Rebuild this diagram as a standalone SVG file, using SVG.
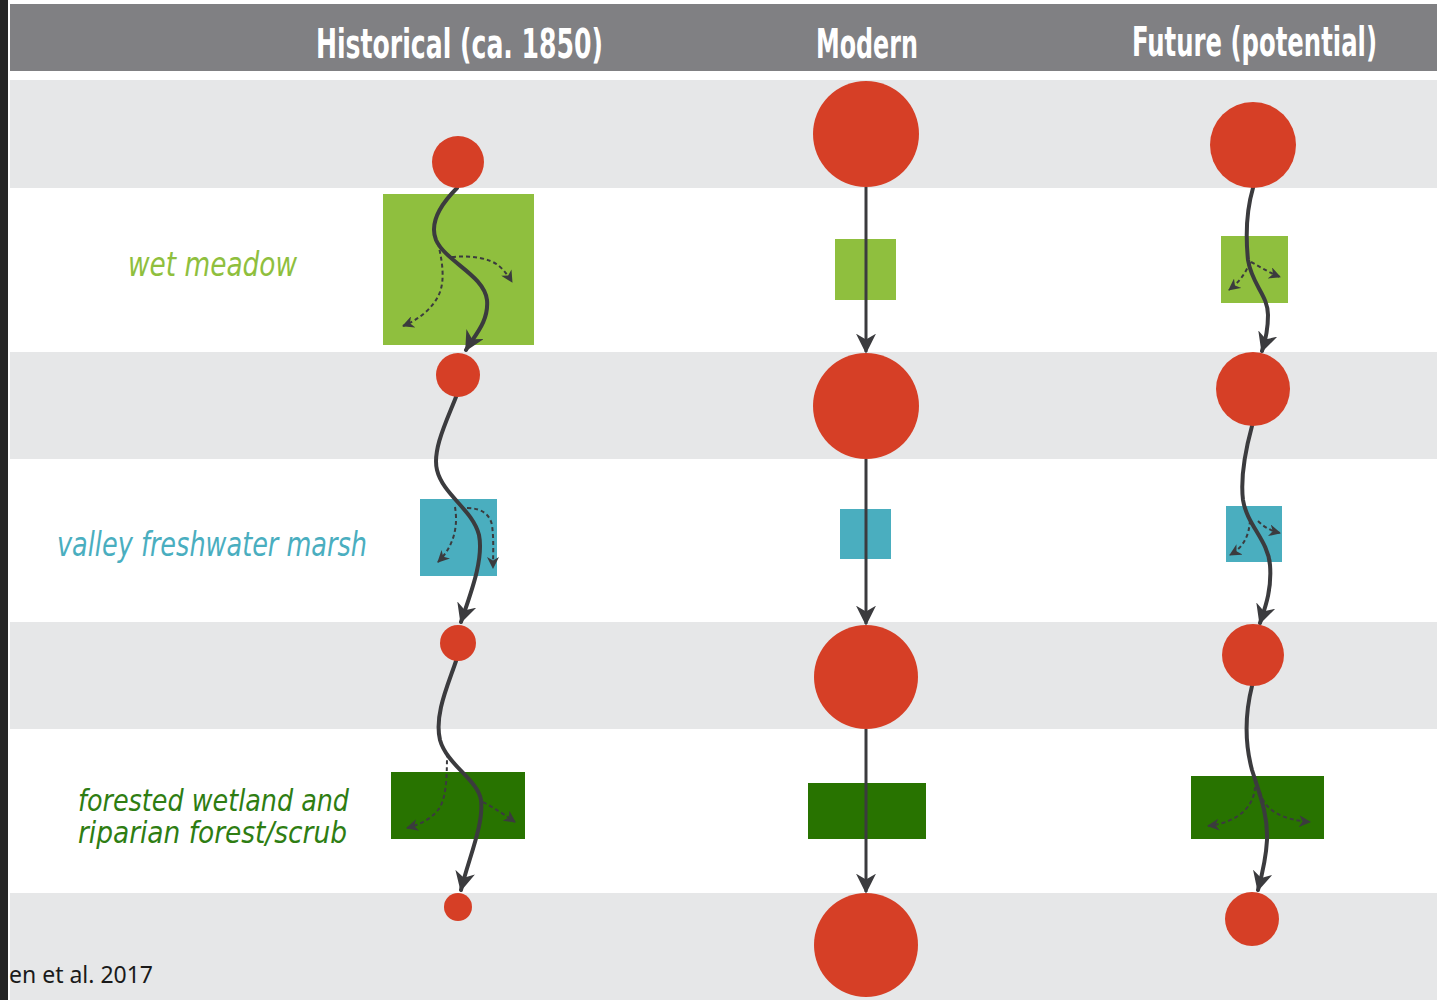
<svg xmlns="http://www.w3.org/2000/svg" width="1437" height="1000" viewBox="0 0 1437 1000">
  <style>
    .hdr { font-family: "DejaVu Sans Condensed", "DejaVu Sans", sans-serif; font-stretch: condensed; font-size: 40px; fill: #ffffff; font-weight: bold; }
    .lbl { font-family: "DejaVu Sans Condensed", "DejaVu Sans", sans-serif; font-stretch: condensed; font-style: italic; font-size: 34px; }
    .lbl2 { font-family: "DejaVu Sans Condensed", "DejaVu Sans", sans-serif; font-stretch: condensed; font-style: italic; font-size: 30px; }
    .dot { fill: #d63f26; }
    .flow { fill: none; stroke: #3b3b3e; stroke-width: 4; stroke-linecap: round; }
    .straight { fill: none; stroke: #3b3b3e; stroke-width: 3; }
    .seep { fill: none; stroke: #3b3b3e; stroke-width: 2; stroke-dasharray: 4 3; }
    .meadow { fill: #8fbf3e; }
    .marsh { fill: #4aaebf; }
    .forest { fill: #287300; }
  </style>
  <defs>
    <marker id="head" viewBox="0 0 12 12" refX="11" refY="6" markerWidth="20" markerHeight="20" markerUnits="userSpaceOnUse" orient="auto">
      <path d="M0,0 L12,6 L0,12 L3.5,6 z" fill="#3b3b3e"/>
    </marker>
    <marker id="small" viewBox="0 0 12 12" refX="11" refY="6" markerWidth="12" markerHeight="12" markerUnits="userSpaceOnUse" orient="auto">
      <path d="M0,0 L12,6 L0,12 L3.5,6 z" fill="#3b3b3e"/>
    </marker>
  </defs>

  <!-- background bands -->
  <rect x="0" y="0" width="1437" height="1000" fill="#ffffff"/>
  <rect x="10" y="4" width="1427" height="67" fill="#808083"/>
  <rect x="10" y="80" width="1427" height="108" fill="#e6e7e8"/>
  <rect x="10" y="352" width="1427" height="107" fill="#e6e7e8"/>
  <rect x="10" y="622" width="1427" height="107" fill="#e6e7e8"/>
  <rect x="10" y="893" width="1427" height="107" fill="#e6e7e8"/>
  <rect x="0" y="0" width="8" height="1000" fill="#262626"/>

  <!-- column headers -->
  <g id="headers">
    <text class="hdr" x="316" y="58" textLength="287" lengthAdjust="spacingAndGlyphs">Historical (ca. 1850)</text>
    <text class="hdr" x="816" y="58" textLength="102" lengthAdjust="spacingAndGlyphs">Modern</text>
    <text class="hdr" x="1132" y="56" textLength="245" lengthAdjust="spacingAndGlyphs">Future (potential)</text>
  </g>

  <!-- habitat labels -->
  <g id="label-meadow">
    <text class="lbl" x="128" y="276" fill="#8fbf3e" textLength="169" lengthAdjust="spacingAndGlyphs">wet  meadow</text>
  </g>
  <g id="label-marsh">
    <text class="lbl" x="57" y="556" fill="#4aaebf" textLength="310" lengthAdjust="spacingAndGlyphs">valley freshwater marsh</text>
  </g>
  <g id="label-forest">
    <text class="lbl2" x="78" y="811" fill="#2e7d12" textLength="271" lengthAdjust="spacingAndGlyphs">forested wetland and</text>
    <text class="lbl2" x="78" y="843" fill="#2e7d12" textLength="269" lengthAdjust="spacingAndGlyphs">riparian forest/scrub</text>
  </g>

  <!-- habitat patches -->
  <g id="hist-meadow"><rect class="meadow" x="383" y="194" width="151" height="151"/></g>
  <g id="hist-marsh"><rect class="marsh" x="420" y="499" width="77" height="77"/></g>
  <g id="hist-forest"><rect class="forest" x="391" y="772" width="134" height="67"/></g>
  <g id="mod-meadow"><rect class="meadow" x="835" y="239" width="61" height="61"/></g>
  <g id="mod-marsh"><rect class="marsh" x="840" y="509" width="51" height="50"/></g>
  <g id="mod-forest"><rect class="forest" x="808" y="783" width="118" height="56"/></g>
  <g id="fut-meadow"><rect class="meadow" x="1221" y="236" width="67" height="67"/></g>
  <g id="fut-marsh"><rect class="marsh" x="1226" y="506" width="56" height="56"/></g>
  <g id="fut-forest"><rect class="forest" x="1191" y="776" width="133" height="63"/></g>

  <!-- flow paths -->
  <g id="connectors">
    <!-- historical -->
    <path class="flow" marker-end="url(#head)" d="M457,188 C445,200 428,220 436,240 C446,262 484,275 487,300 C489,322 474,336 466,350"/>
    <path class="seep" marker-end="url(#small)" d="M438,243 C442,260 445,278 440,292 C434,308 418,320 403,326"/>
    <path class="seep" marker-end="url(#small)" d="M452,257 C470,255 490,258 499,266 C505,271 509,277 512,282"/>
    <path class="flow" marker-end="url(#head)" d="M456,397 C447,420 432,450 437,470 C443,495 473,510 479,535 C484,560 470,595 461,622"/>
    <path class="seep" marker-end="url(#small)" d="M455,507 C458,525 455,545 438,562"/>
    <path class="seep" marker-end="url(#small)" d="M467,508 C482,508 490,515 492,525 C494,540 493,555 493,568"/>
    <path class="flow" marker-end="url(#head)" d="M456,661 C448,685 434,715 440,740 C447,765 478,780 481,800 C484,825 468,860 461,890"/>
    <path class="seep" marker-end="url(#small)" d="M447,753 C447,780 446,800 438,810 C430,820 418,825 407,828"/>
    <path class="seep" marker-end="url(#small)" d="M483,802 C494,808 505,815 515,822"/>
    <!-- modern -->
    <path class="straight" marker-end="url(#head)" d="M866,187 L866,352"/>
    <path class="straight" marker-end="url(#head)" d="M866,459 L866,624"/>
    <path class="straight" marker-end="url(#head)" d="M866,729 L866,892"/>
    <!-- future -->
    <path class="flow" marker-end="url(#head)" d="M1253,188 C1248,205 1245,230 1248,260 C1252,285 1268,295 1268,315 C1268,332 1265,342 1262,351"/>
    <path class="seep" marker-end="url(#small)" d="M1250,262 C1245,275 1238,283 1229,290"/>
    <path class="seep" marker-end="url(#small)" d="M1251,262 C1262,268 1270,273 1280,277"/>
    <path class="flow" marker-end="url(#head)" d="M1252,426 C1246,448 1240,475 1243,500 C1247,525 1268,540 1270,565 C1272,590 1265,608 1260,623"/>
    <path class="seep" marker-end="url(#small)" d="M1250,520 C1249,538 1242,548 1230,555"/>
    <path class="seep" marker-end="url(#small)" d="M1258,521 C1265,528 1272,531 1280,533"/>
    <path class="flow" marker-end="url(#head)" d="M1252,686 C1246,710 1244,740 1252,770 C1260,795 1268,815 1267,840 C1266,860 1262,875 1258,890"/>
    <path class="seep" marker-end="url(#small)" d="M1255,780 C1257,805 1240,822 1208,826"/>
    <path class="seep" marker-end="url(#small)" d="M1260,792 C1265,812 1285,820 1310,822"/>
  </g>

  <!-- channel nodes -->
  <g id="hist-n1"><circle class="dot" cx="458" cy="162" r="26"/></g>
  <g id="hist-n2"><circle class="dot" cx="458" cy="375" r="22"/></g>
  <g id="hist-n3"><circle class="dot" cx="458" cy="643" r="18"/></g>
  <g id="hist-n4"><circle class="dot" cx="458" cy="907" r="14"/></g>
  <g id="mod-n1"><circle class="dot" cx="866" cy="134" r="53"/></g>
  <g id="mod-n2"><circle class="dot" cx="866" cy="406" r="53"/></g>
  <g id="mod-n3"><circle class="dot" cx="866" cy="677" r="52"/></g>
  <g id="mod-n4"><circle class="dot" cx="866" cy="945" r="52"/></g>
  <g id="fut-n1"><circle class="dot" cx="1253" cy="145" r="43"/></g>
  <g id="fut-n2"><circle class="dot" cx="1253" cy="389" r="37"/></g>
  <g id="fut-n3"><circle class="dot" cx="1253" cy="655" r="31"/></g>
  <g id="fut-n4"><circle class="dot" cx="1252" cy="919" r="27"/></g>

  <!-- citation -->
  <text x="9" y="983" font-family="'Noto Sans', 'Open Sans', sans-serif" font-size="23" fill="#1a1a1a">en et al. 2017</text>
</svg>
